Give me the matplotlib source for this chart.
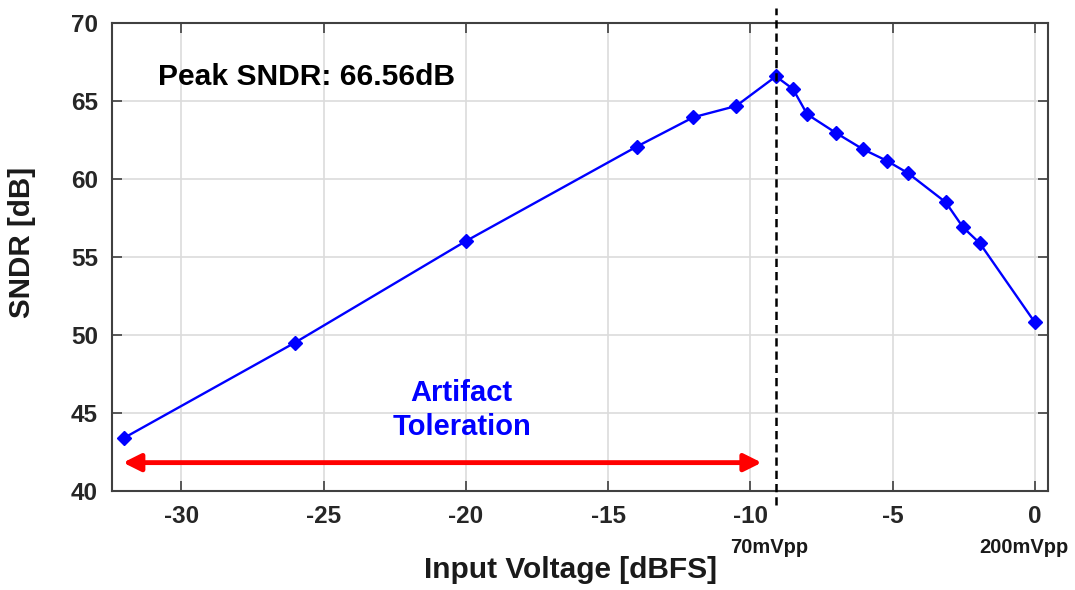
import matplotlib
matplotlib.use("Agg")
import matplotlib.pyplot as plt

plt.rcParams['font.family'] = ['Liberation Sans', 'DejaVu Sans']
plt.rcParams['font.weight'] = 'bold'

input_dbfs = [-32.0, -26.0, -20.0, -14.0, -12.0, -10.5, -9.1, -8.5, -8.0, -7.0,
              -6.05, -5.2, -4.45, -3.13, -2.52, -1.93, 0.0]
sndr_db = [43.4, 49.5, 56.0, 62.05, 63.94, 64.66, 66.56, 65.75, 64.13, 62.95,
           61.9, 61.15, 60.35, 58.49, 56.88, 55.86, 50.8]
xticks = [-30, -25, -20, -15, -10, -5, 0]
yticks = [40, 45, 50, 55, 60, 65, 70]
peak_x = -9.1
arrow_span = [-32.05, -9.6]
arrow_y = 41.8

fig = plt.figure(figsize=(10.75, 5.9), dpi=100)
ax = fig.add_axes([0.1039, 0.1683, 0.8711, 0.7932])

ax.plot(input_dbfs, sndr_db, color='#0000ff', lw=1.7, marker='D', ms=7,
        mfc='#0000ff', mec='#0000ff', zorder=5)

ax.set_xlim(-32.45, 0.47)
ax.set_ylim(40, 70)
ax.set_xticks(xticks)
ax.set_yticks(yticks)
ax.set_xticklabels([str(t) for t in xticks])
ax.grid(True, color='#dcdcdc', lw=1.2)
ax.set_axisbelow(True)
ax.tick_params(direction='in', top=True, right=True, length=7, width=1.2,
               color='#404040', labelsize=17.5, labelcolor='#262626', pad=10)
for s in ax.spines.values():
    s.set_color('#404040')
    s.set_linewidth(1.5)

# vertical dashed line at peak
ax.plot([peak_x, peak_x], [39.1, 70.95], color='black', ls=(0, (3.3, 2)), lw=1.8,
        clip_on=False, zorder=6)

# red double-headed arrow
ax.annotate('', xy=(arrow_span[1], arrow_y), xytext=(arrow_span[0], arrow_y),
            arrowprops=dict(arrowstyle='<|-|>', color='#ff0000', lw=3.5,
                            mutation_scale=26, shrinkA=0, shrinkB=0))

ax.text(-20.15, 45.17, 'Artifact\nToleration', color='#0000ff', fontsize=21,
        fontweight='bold', ha='center', va='center', linespacing=1.3)
ax.text(-30.83, 66.52, 'Peak SNDR: 66.56dB', color='black', fontsize=21.6,
        fontweight='bold', ha='left', va='center')

ax.text(-9.34, -0.1224, '70mVpp', transform=ax.get_xaxis_transform(),
        ha='center', va='center', fontsize=14.5, fontweight='bold', color='#1a1a1a')
ax.text(-0.37, -0.1224, '200mVpp', transform=ax.get_xaxis_transform(),
        ha='center', va='center', fontsize=14.5, fontweight='bold', color='#1a1a1a')

fig.text(570 / 1075, 1 - 570 / 590, 'Input Voltage [dBFS]', ha='center', va='center',
         fontsize=21.5, fontweight='bold', color='#1a1a1a')
fig.text(22.5 / 1075, 1 - 242 / 590, 'SNDR [dB]', ha='center', va='center',
         rotation=90, fontsize=21.3, fontweight='bold', color='#1a1a1a')

fig.savefig('out.png', dpi=100)
